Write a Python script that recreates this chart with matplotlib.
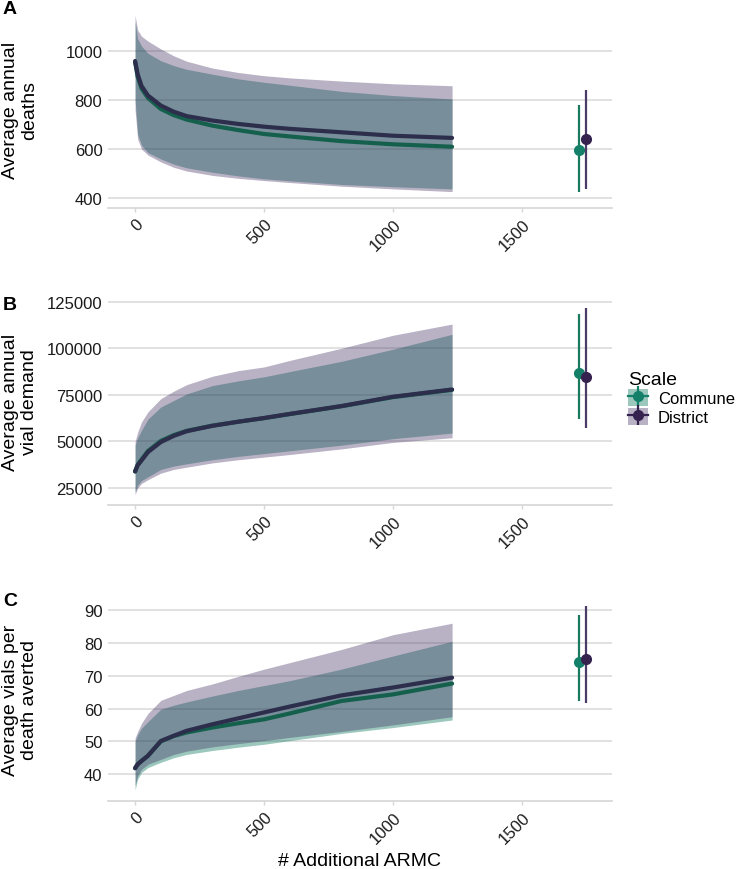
import matplotlib
matplotlib.use('Agg')
import matplotlib.pyplot as plt
from matplotlib.lines import Line2D
from matplotlib.patches import Patch

plt.rcParams['font.family'] = ['Liberation Sans', 'DejaVu Sans']

armc = [0, 10, 25, 50, 100, 150, 200, 300, 400, 500, 600, 800, 1000, 1229]
scales = ['Commune', 'District']

# A: deaths
deaths_mean = {
    'Commune': [955, 895, 847, 808, 763, 738, 720, 695, 677, 661, 651, 632, 619, 609],
    'District': [959, 905, 857, 818, 777, 752, 734, 716, 702, 691, 682, 668, 654, 645],
}
deaths_lo = {
    'Commune': [800, 660, 615, 585, 559, 538, 523, 505, 490, 478, 470, 455, 446, 437],
    'District': [760, 640, 600, 575, 547, 525, 510, 492, 480, 471, 463, 448, 437, 426],
}
deaths_hi = {
    'Commune': [1120, 1050, 1020, 990, 960, 940, 925, 905, 886, 872, 860, 835, 818, 804],
    'District': [1145, 1085, 1060, 1040, 1008, 980, 958, 930, 912, 899, 890, 877, 866, 858],
}

# B: vial demand
vials_mean = {
    'Commune': [33900, 37500, 40300, 44900, 50300, 53400, 55700, 58500, 60600, 62500, 64700, 68900, 73800, 77700],
    'District': [33900, 37200, 39800, 44300, 49700, 53000, 55500, 58400, 60600, 62600, 64800, 69000, 74000, 77900],
}
vials_lo = {
    'Commune': [23000, 26500, 29000, 31000, 35000, 36800, 38000, 40200, 42000, 43500, 45000, 48000, 51500, 54500],
    'District': [21500, 25000, 27500, 29500, 33000, 35000, 36200, 38500, 40200, 41600, 43000, 46000, 49500, 52000],
}
vials_hi = {
    'Commune': [48000, 52000, 56000, 62000, 68500, 72000, 75500, 80000, 82500, 84700, 87500, 93000, 99500, 107500],
    'District': [50000, 55000, 60500, 65900, 73000, 77000, 80500, 85000, 88000, 90000, 93500, 100000, 107000, 113000],
}

# C: vials per death averted
vpd_mean = {
    'Commune': [41.8, 43.0, 44.0, 45.6, 50.0, 51.6, 52.7, 54.2, 55.5, 56.7, 58.5, 62.3, 64.3, 67.6],
    'District': [41.8, 43.0, 44.0, 45.6, 50.1, 51.7, 53.2, 55.2, 57.0, 58.8, 60.6, 64.0, 66.4, 69.4],
}
vpd_lo = {
    'Commune': [35.2, 38.5, 40.5, 42.0, 43.6, 45.0, 46.0, 47.2, 48.2, 49.1, 50.2, 52.4, 54.2, 56.5],
    'District': [36.5, 39.5, 41.5, 43.0, 44.5, 46.0, 47.0, 48.3, 49.3, 50.2, 51.2, 53.0, 55.0, 57.5],
}
vpd_hi = {
    'Commune': [50, 52, 54, 56, 59.8, 61.0, 62.0, 63.8, 65.5, 67.0, 68.5, 72.0, 76.0, 80.5],
    'District': [51, 53, 55.5, 58.5, 62.5, 64.0, 65.5, 67.5, 69.8, 72.0, 74.0, 78.0, 82.5, 86.0],
}

# full-scale point estimates (x = total ARMC, dodged)
full_x = {'Commune': 1721, 'District': 1748}
full_deaths = {'Commune': (596, 424, 780), 'District': (641, 437, 841)}
full_vials = {'Commune': (86800, 62100, 118300), 'District': (84700, 57300, 121500)}
full_vpd = {'Commune': (74.3, 62.4, 88.6), 'District': (75.2, 61.8, 91.3)}

ribbon_col = {'Commune': '#127a62', 'District': '#3b2a5c'}
ribbon_alpha = {'Commune': 0.42, 'District': 0.36}
line_col = {'Commune': '#15604d', 'District': '#2c2e4c'}
point_col = {'Commune': '#14806a', 'District': '#35224f'}
bar_col = {'Commune': '#1a7a60', 'District': '#4a3b68'}

W, H = 739, 870
fig = plt.figure(figsize=(W / 100, H / 100), dpi=100)

panels = [
    ('A', 'Average annual\ndeaths', deaths_mean, deaths_lo, deaths_hi, full_deaths,
     (12, 209), 9, (359, 1163), [400, 600, 800, 1000]),
    ('B', 'Average annual\nvial demand', vials_mean, vials_lo, vials_hi, full_vials,
     (299, 506), 305, (15900, 127000), [25000, 50000, 75000, 100000, 125000]),
    ('C', 'Average vials per\ndeath averted', vpd_mean, vpd_lo, vpd_hi, full_vpd,
     (598, 802), 601, (31.8, 94), [40, 50, 60, 70, 80, 90]),
]

left, right = 108, 612
for tag, ylab, mean, lo, hi, full, (top, bot), tag_y, ylim, yticks in panels:
    ax = fig.add_axes([left / W, 1 - bot / H, (right - left) / W, (bot - top) / H])
    for s in scales:
        ax.fill_between(armc, lo[s], hi[s], color=ribbon_col[s],
                        alpha=ribbon_alpha[s], lw=0)
    for s in scales:
        ax.plot(armc, mean[s], color=line_col[s], lw=3, solid_capstyle='round')
    for s in scales:
        m, l, h = full[s]
        ax.vlines(full_x[s], l, h, color=bar_col[s], lw=1.6)
        ax.plot(full_x[s], m, 'o', color=point_col[s], ms=7)

    ax.set_xlim(-105, 1849)
    ax.set_ylim(*ylim)
    ax.set_yticks(yticks)
    ax.set_yticklabels([str(v) for v in yticks])
    ax.set_xticks([0, 500, 1000, 1500])
    ax.set_xticklabels(['0', '500', '1000', '1500'], rotation=45,
                       ha='right', va='top', rotation_mode='anchor')
    ax.grid(axis='y', color='#dcdcdc', lw=1.2)
    ax.set_axisbelow(True)
    for sp in ['top', 'right', 'left']:
        ax.spines[sp].set_visible(False)
    ax.spines['bottom'].set_color('#d6d6d6')
    ax.spines['bottom'].set_linewidth(1.2)
    ax.tick_params(axis='y', length=0, pad=4, labelsize=12, labelcolor='#1a1a1a')
    ax.tick_params(axis='x', length=3, width=1, color='#d6d6d6', pad=3,
                   labelsize=12, labelcolor='#1a1a1a')
    ax.set_ylabel(ylab, fontsize=14, linespacing=1.15)
    ax.yaxis.set_label_coords(-0.138, 0.5)
    fig.text(3 / W, 1 - tag_y / H, tag, fontsize=14, fontweight='bold',
             ha='left', va='center')

ax.set_xlabel('# Additional ARMC', fontsize=14)
ax.xaxis.set_label_coords(0.5, -0.25)

handles = []
for s in scales:
    bg = Patch(facecolor=ribbon_col[s], alpha=ribbon_alpha[s], edgecolor='none')
    hl = Line2D([], [], color=point_col[s], lw=1.6,
                marker='o', ms=7, markerfacecolor=point_col[s], markeredgecolor=point_col[s])
    vl = Line2D([], [], color=point_col[s], lw=0, marker='|', ms=14, mew=1.6)
    handles.append((bg, hl, vl))
fig.legend(handles, scales, title='Scale', loc='upper left',
           bbox_to_anchor=(616 / W, 1 - 360 / H), frameon=False,
           fontsize=12, title_fontsize=14, handlelength=1.2, handleheight=1.2,
           handletextpad=0.6, labelspacing=0.1, alignment='left', borderpad=0.2)

fig.savefig('out.png', dpi=100)
